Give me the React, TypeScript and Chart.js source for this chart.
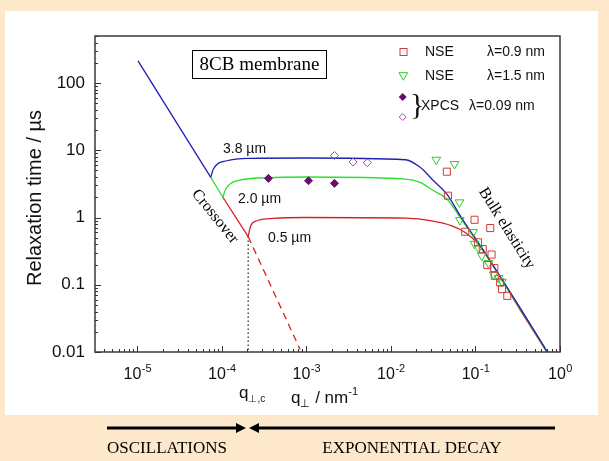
import React, { useEffect, useRef } from 'react';
import { Chart, registerables } from 'chart.js';

Chart.register(...registerables);

// ---------- data ----------
const xTickExponents = [-5, -4, -3, -2, -1, 0];
const yTickValues = [0.01, 0.1, 1, 10, 100];
const yTickLabels = ['0.01', '0.1', '1', '10', '100'];

// oscillation regime (tau ~ q^-2)
const oscQ = [1.02e-5, 7.4e-5];
const oscTau = [213, 3.95];
const crossGreenQ = [7.4e-5, 1.03e-4];
const crossGreenTau = [3.95, 2.0];
const crossRedQ = [1.03e-4, 2.05e-4];
const crossRedTau = [2.0, 0.52];
const dashedRedQ = [2.05e-4, 8.4e-4];
const dashedRedTau = [0.52, 0.011];
const qcQ = [2.05e-4, 2.05e-4];
const qcTau = [0.52, 0.01];

// membrane curves (3.8 um, 2.0 um, 0.5 um)
const blueQ = [7.4e-5, 7.94e-5, 1.15e-4, 2.16e-4, 9.7e-4, 0.0148, 0.0222, 0.0319, 0.0459, 0.0661, 0.1365, 0.339, 0.71];
const blueTau = [3.95, 5.26, 6.98, 7.59, 7.67, 7.23, 5.57, 3.52, 2.23, 1.06, 0.27, 0.0449, 0.01];
const greenQ = [1.03e-4, 1.09e-4, 1.25e-4, 1.64e-4, 3.4e-4, 9.66e-4, 0.0148, 0.0222, 0.0319, 0.0459, 0.0661, 0.1365, 0.339, 0.71];
const greenTau = [2.0, 2.5, 3.15, 3.61, 3.9, 4.0, 3.73, 3.33, 2.5, 1.88, 1.0, 0.265, 0.044, 0.0098];
const redQ = [2.05e-4, 2.2e-4, 2.59e-4, 4.07e-4, 9.66e-4, 0.0148, 0.0305, 0.0526, 0.0757, 0.1087, 0.1496, 0.339, 0.71];
const redTau = [0.52, 0.753, 0.894, 0.97, 1.0, 0.98, 0.894, 0.753, 0.6, 0.4, 0.225, 0.042, 0.0097];

// measurements
const nse09Q = [0.0459, 0.0472, 0.0975, 0.1496, 0.0757, 0.107, 0.122, 0.155, 0.138, 0.167, 0.169, 0.196, 0.206, 0.238];
const nse09Tau = [4.8, 2.11, 0.925, 0.697, 0.614, 0.427, 0.339, 0.281, 0.196, 0.177, 0.136, 0.108, 0.0861, 0.0684];
const nse15Q = [0.0344, 0.0565, 0.0647, 0.0655, 0.094, 0.0973, 0.1087, 0.119, 0.1426, 0.164, 0.1875, 0.206];
const nse15Tau = [7.23, 6.24, 1.68, 0.916, 0.607, 0.407, 0.351, 0.27, 0.21, 0.142, 0.126, 0.111];
const xpcsFilledQ = [3.56e-4, 1.06e-3, 2.15e-3];
const xpcsFilledTau = [3.82, 3.52, 3.22];
const xpcsOpenQ = [2.15e-3, 3.57e-3, 5.26e-3];
const xpcsOpenTau = [8.35, 6.68, 6.53];

// ---------- styles ----------
const BLUE = '#1f1fb2';
const GREEN = '#2fde2f';
const RED = '#d42222';
const SQ_RED = '#d03a3a';
const TRI_GREEN = '#30c830';
const PURPLE = '#6a0d6a';
const PURPLE_OPEN = '#a050a8';
const PEACH = '#fde8cc';
const SANS = '"Liberation Sans", Arial, sans-serif';
const SERIF = '"Liberation Serif", "Times New Roman", serif';

const pts = (qs: number[], ts: number[]) => qs.map((q, i) => ({ x: q, y: ts[i] }));

const lineDs = (data: any, color: string, order: number, extra: any = {}) => ({
  data,
  showLine: true,
  borderColor: color,
  backgroundColor: color,
  borderWidth: 1.3,
  pointRadius: 0,
  pointHoverRadius: 0,
  tension: 0,
  order,
  ...extra,
});

const decorPlugin = {
  id: 'decor',
  beforeDraw(chart: any) {
    const ctx = chart.ctx;
    ctx.save();
    ctx.fillStyle = PEACH;
    ctx.fillRect(0, 0, chart.width, chart.height);
    ctx.fillStyle = '#ffffff';
    ctx.fillRect(5, 11, 593, 404);
    ctx.restore();
  },
  afterDraw(chart: any) {
    const ctx = chart.ctx;
    const { left, right, top, bottom } = chart.chartArea;
    const xs = chart.scales.x;
    const ys = chart.scales.y;
    ctx.save();

    // frame
    ctx.strokeStyle = '#3a3a3a';
    ctx.lineWidth = 1.5;
    ctx.strokeRect(left, top, right - left, bottom - top);

    // inward tick marks
    ctx.lineWidth = 1;
    ctx.strokeStyle = '#333';
    ctx.beginPath();
    for (let e = -6; e <= 0; e++) {
      for (let m = 1; m <= 9; m++) {
        const v = m * Math.pow(10, e);
        if (v < xs.min * 0.9999 || v > xs.max * 1.0001) continue;
        const px = Math.round(xs.getPixelForValue(v)) + 0.5;
        const len = m === 1 ? 6 : 3;
        ctx.moveTo(px, bottom);
        ctx.lineTo(px, bottom - len);
      }
    }
    for (let e = -2; e <= 2; e++) {
      for (let m = 1; m <= 9; m++) {
        const v = m * Math.pow(10, e);
        if (v < ys.min * 0.9999 || v > ys.max * 1.0001) continue;
        const py = Math.round(ys.getPixelForValue(v)) + 0.5;
        const len = m === 1 ? 6 : 3;
        ctx.moveTo(left, py);
        ctx.lineTo(left + len, py);
      }
    }
    ctx.stroke();

    // x tick labels 10^n
    ctx.fillStyle = '#111';
    ctx.textBaseline = 'alphabetic';
    ctx.textAlign = 'left';
    xTickExponents.forEach((ex) => {
      const px = xs.getPixelForValue(Math.pow(10, ex));
      ctx.font = `16px ${SANS}`;
      const wb = ctx.measureText('10').width;
      ctx.font = `11px ${SANS}`;
      const sup = String(ex);
      const ws = ctx.measureText(sup).width;
      const x0 = px - (wb + ws) / 2;
      ctx.font = `16px ${SANS}`;
      ctx.fillText('10', x0, 379);
      ctx.font = `11px ${SANS}`;
      ctx.fillText(sup, x0 + wb + 0.5, 372);
    });

    // x axis titles
    const seq = (x: number, y: number, parts: [string, number, number][]) => {
      let cx = x;
      parts.forEach(([t, size, dy]) => {
        ctx.font = `${size}px ${SANS}`;
        ctx.fillText(t, cx, y + dy);
        cx += ctx.measureText(t).width;
      });
    };
    seq(239, 398, [['q', 17, 0], ['\u22A5,c', 10, 4]]);
    seq(291, 403, [['q', 17, 0], ['\u22A5', 11, 4], [' / nm', 17, 0], ['-1', 11, -8]]);

    // y axis title
    ctx.save();
    ctx.translate(35, 198);
    ctx.rotate(-Math.PI / 2);
    ctx.textAlign = 'center';
    ctx.textBaseline = 'middle';
    ctx.font = `20px ${SANS}`;
    ctx.fillText('Relaxation time / \u00B5s', 0, 0);
    ctx.restore();

    // curve labels
    ctx.font = `14px ${SANS}`;
    ctx.fillText('3.8 \u00B5m', 223, 153);
    ctx.fillText('2.0 \u00B5m', 238, 203);
    ctx.fillText('0.5 \u00B5m', 268, 242);

    // title box
    ctx.strokeStyle = '#000';
    ctx.lineWidth = 1;
    ctx.strokeRect(192.5, 50.5, 134, 28);
    ctx.textAlign = 'center';
    ctx.textBaseline = 'middle';
    ctx.font = `19px ${SERIF}`;
    ctx.fillStyle = '#000';
    ctx.fillText('8CB membrane', 259.5, 65);

    // rotated annotations
    const rot = (t: string, x: number, y: number, deg: number) => {
      ctx.save();
      ctx.translate(x, y);
      ctx.rotate((deg * Math.PI) / 180);
      ctx.font = `16px ${SERIF}`;
      ctx.fillText(t, 0, 0);
      ctx.restore();
    };
    rot('Crossover', 215, 216.5, 51);
    rot('Bulk elasticity', 506.7, 228.3, 58);

    // legend
    const r1 = 52;
    const r2 = 76;
    const r3 = 106;
    ctx.lineWidth = 1;
    ctx.strokeStyle = SQ_RED;
    ctx.strokeRect(400, r1 - 3.5, 7, 7);
    ctx.strokeStyle = TRI_GREEN;
    ctx.beginPath();
    ctx.moveTo(399, r2 - 3.3);
    ctx.lineTo(407.6, r2 - 3.3);
    ctx.lineTo(403.3, r2 + 4.2);
    ctx.closePath();
    ctx.stroke();
    ctx.fillStyle = PURPLE;
    ctx.beginPath();
    ctx.moveTo(402.7, r3 - 13);
    ctx.lineTo(406.7, r3 - 9);
    ctx.lineTo(402.7, r3 - 5);
    ctx.lineTo(398.7, r3 - 9);
    ctx.closePath();
    ctx.fill();
    ctx.strokeStyle = PURPLE_OPEN;
    ctx.beginPath();
    ctx.moveTo(402.7, r3 + 7.5);
    ctx.lineTo(406.2, r3 + 11);
    ctx.lineTo(402.7, r3 + 14.5);
    ctx.lineTo(399.2, r3 + 11);
    ctx.closePath();
    ctx.stroke();

    ctx.fillStyle = '#111';
    ctx.textAlign = 'left';
    ctx.textBaseline = 'middle';
    ctx.font = `14px ${SANS}`;
    ctx.fillText('NSE', 425, r1);
    ctx.fillText('\u03BB=0.9 nm', 487, r1);
    ctx.fillText('NSE', 425, r2);
    ctx.fillText('\u03BB=1.5 nm', 487, r2);
    ctx.fillText('XPCS', 421, r3);
    ctx.fillText('\u03BB=0.09 nm', 469, r3);
    ctx.font = `30px ${SERIF}`;
    ctx.fillText('}', 410, r3);

    // bottom band arrows
    ctx.strokeStyle = '#000';
    ctx.fillStyle = '#000';
    ctx.lineWidth = 3;
    ctx.beginPath();
    ctx.moveTo(107, 428);
    ctx.lineTo(238, 428);
    ctx.moveTo(256, 428);
    ctx.lineTo(555, 428);
    ctx.stroke();
    ctx.beginPath();
    ctx.moveTo(236, 423);
    ctx.lineTo(246, 428);
    ctx.lineTo(236, 433);
    ctx.closePath();
    ctx.fill();
    ctx.beginPath();
    ctx.moveTo(259, 423);
    ctx.lineTo(249, 428);
    ctx.lineTo(259, 433);
    ctx.closePath();
    ctx.fill();

    ctx.textAlign = 'center';
    ctx.textBaseline = 'alphabetic';
    ctx.font = `17px ${SERIF}`;
    ctx.fillText('OSCILLATIONS', 167, 453);
    ctx.fillText('EXPONENTIAL DECAY', 412, 453);

    ctx.restore();
  },
};

export default function App() {
  const ref = useRef<HTMLCanvasElement | null>(null);

  useEffect(() => {
    if (!ref.current) return;
    const chart = new Chart(ref.current, {
      type: 'scatter',
      data: {
        datasets: [
          {
            data: pts(xpcsFilledQ, xpcsFilledTau),
            pointStyle: 'rectRot',
            pointRadius: 4,
            backgroundColor: PURPLE,
            borderColor: PURPLE,
            borderWidth: 1,
            order: 0,
          },
          {
            data: pts(xpcsOpenQ, xpcsOpenTau),
            pointStyle: 'rectRot',
            pointRadius: 4,
            backgroundColor: 'rgba(0,0,0,0)',
            borderColor: PURPLE_OPEN,
            borderWidth: 1,
            order: 0,
          },
          {
            data: pts(nse09Q, nse09Tau),
            pointStyle: 'rect',
            pointRadius: 5,
            backgroundColor: 'rgba(0,0,0,0)',
            borderColor: SQ_RED,
            borderWidth: 1,
            order: 1,
          },
          {
            data: pts(nse15Q, nse15Tau),
            pointStyle: 'triangle',
            pointRotation: 180,
            pointRadius: 5,
            backgroundColor: 'rgba(0,0,0,0)',
            borderColor: TRI_GREEN,
            borderWidth: 1,
            order: 1,
          },
          lineDs(pts(oscQ, oscTau), BLUE, 3),
          lineDs(pts(blueQ, blueTau), BLUE, 3, { cubicInterpolationMode: 'monotone' }),
          lineDs(pts(crossGreenQ, crossGreenTau), GREEN, 4),
          lineDs(pts(greenQ, greenTau), GREEN, 4, { cubicInterpolationMode: 'monotone' }),
          lineDs(pts(crossRedQ, crossRedTau), RED, 5),
          lineDs(pts(redQ, redTau), RED, 5, { cubicInterpolationMode: 'monotone' }),
          lineDs(pts(dashedRedQ, dashedRedTau), RED, 5, { borderDash: [7, 5] }),
          lineDs(pts(qcQ, qcTau), '#222', 6, { borderDash: [1.5, 2.5], borderWidth: 1.2 }),
        ] as any,
      },
      options: {
        responsive: false,
        animation: false,
        events: [],
        layout: { padding: { left: 0, right: 49, top: 36, bottom: 0 } },
        plugins: { legend: { display: false }, tooltip: { enabled: false } },
        scales: {
          x: {
            type: 'logarithmic',
            min: Math.pow(10, -5.5),
            max: 1,
            ticks: { display: false },
            grid: { display: false, drawTicks: false },
            border: { display: false },
            afterFit: (s: any) => {
              s.height = 109;
              s.paddingLeft = 0;
              s.paddingRight = 0;
            },
          },
          y: {
            type: 'logarithmic',
            min: 0.01,
            max: 500,
            afterBuildTicks: (s: any) => {
              s.ticks = yTickValues.map((v) => ({ value: v }));
            },
            ticks: {
              autoSkip: false,
              padding: 10,
              color: '#111',
              font: { family: '"Liberation Sans", Arial, sans-serif', size: 17 },
              callback: (_v: any, i: number) => yTickLabels[i],
            },
            grid: { display: false, drawTicks: false },
            border: { display: false },
            afterFit: (s: any) => {
              s.width = 95;
              s.paddingTop = 0;
              s.paddingBottom = 0;
            },
          },
        },
      } as any,
      plugins: [decorPlugin],
    });
    return () => chart.destroy();
  }, []);

  return (
    <div style={{ position: 'absolute', left: 0, top: 0, width: 609, height: 461 }}>
      <canvas ref={ref} width={609} height={461} style={{ display: 'block' }} />
    </div>
  );
}
